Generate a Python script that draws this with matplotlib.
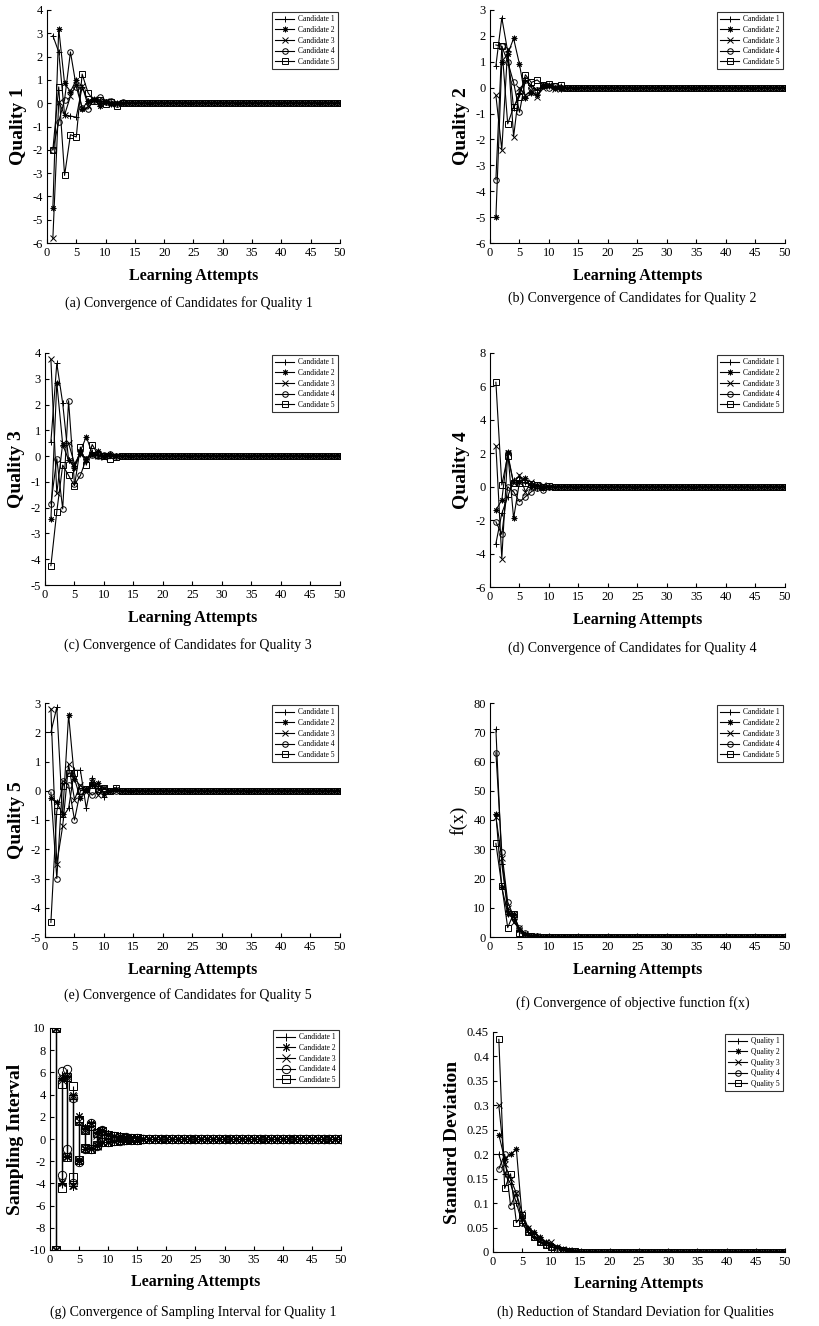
import matplotlib
matplotlib.use("Agg")
import matplotlib.pyplot as plt

plt.rcParams['font.family'] = ['Liberation Serif', 'DejaVu Serif']
plt.rcParams['axes.unicode_minus'] = False

N = 50
attempts = list(range(1, N + 1))
cand_labels = ['Candidate 1', 'Candidate 2', 'Candidate 3', 'Candidate 4', 'Candidate 5']
qual_labels = ['Quality 1', 'Quality 2', 'Quality 3', 'Quality 4', 'Quality 5']


def pad(vals, tail=0.0):
    # values after the listed ones sit on zero in the picture
    return list(vals) + [tail] * (N - len(vals))


# (a) Quality 1
q1_c1 = pad([2.9, 2.2, -0.5, -0.55, -0.6, 0.7, 0.1, 0.2, 0.1, 0.05, 0.0, -0.05, 0.02])
q1_c2 = pad([-4.5, 3.2, 0.85, 0.5, 1.0, -0.25, 0.1, 0.15, -0.1, 0.05, -0.05, 0.02])
q1_c3 = pad([-5.8, 0.05, -0.5, 0.3, 0.8, 0.75, -0.1, 0.2, 0.0, 0.1, -0.05, 0.0])
q1_c4 = pad([-2.0, -0.8, 0.15, 2.2, 0.7, -0.2, -0.25, 0.15, 0.25, 0.05, 0.1, -0.05, 0.05])
q1_c5 = pad([-2.0, 0.7, -3.1, -1.35, -1.45, 1.25, 0.45, 0.1, 0.15, -0.05, 0.05, -0.1, 0.0])

# (b) Quality 2
q2_c1 = pad([0.85, 2.7, 1.4, -0.8, -0.2, 0.3, 0.1, -0.1, 0.05, 0.1, 0.0, 0.05])
q2_c2 = pad([-5.0, 1.0, 1.3, 1.9, 0.9, -0.4, -0.2, -0.3, 0.1, 0.05, 0.0, -0.05])
q2_c3 = pad([-0.3, -2.4, 1.5, -1.9, 0.0, -0.3, -0.1, -0.35, 0.0, 0.1, -0.05, 0.0])
q2_c4 = pad([-3.55, 1.6, 1.0, 0.2, -0.95, 0.3, 0.0, -0.1, 0.1, 0.0, 0.05, 0.0])
q2_c5 = pad([1.65, 1.6, -1.4, -0.75, -0.35, 0.5, 0.2, 0.3, 0.1, 0.15, 0.05, 0.1])

# (c) Quality 3
q3_c1 = pad([0.55, 3.6, 2.05, -0.15, -0.4, 0.1, -0.1, 0.15, 0.05, 0.0, 0.05, 0.0])
q3_c2 = pad([-2.45, 2.85, 0.45, -0.15, -0.45, 0.2, 0.75, 0.1, 0.2, 0.0, 0.1, 0.0])
q3_c3 = pad([3.75, -1.45, 0.5, 0.5, -0.3, 0.1, -0.1, 0.05, 0.0, -0.05, 0.0, 0.0])
q3_c4 = pad([-1.85, -0.1, -2.05, 2.15, -1.1, -0.75, -0.1, 0.05, 0.0, 0.05, 0.1, 0.0])
q3_c5 = pad([-4.25, -2.15, -0.35, -0.75, -1.15, 0.35, -0.35, 0.45, 0.05, 0.0, -0.1, -0.05])

# (d) Quality 4
q4_c1 = pad([-3.4, -1.6, -0.6, 0.4, 0.6, 0.3, 0.1, -0.1, 0.0, 0.05])
q4_c2 = pad([-1.4, -0.8, 2.1, -1.9, 0.3, 0.5, 0.0, 0.1, -0.1, 0.0])
q4_c3 = pad([2.45, -4.3, 2.0, 0.2, 0.7, -0.3, 0.3, 0.0, 0.1, 0.0])
q4_c4 = pad([-2.1, -2.85, 0.0, -0.3, -0.9, -0.6, -0.3, -0.1, -0.2, 0.0])
q4_c5 = pad([6.25, 0.1, 1.85, 0.2, 0.25, 0.2, 0.15, 0.1, 0.0, 0.05])

# (e) Quality 5
q5_c1 = pad([2.0, 2.85, -0.9, -0.6, 0.7, 0.7, -0.6, 0.45, 0.1, -0.2, 0.0, 0.05])
q5_c2 = pad([-0.25, -0.4, -0.8, 2.6, 0.4, -0.25, 0.05, 0.2, 0.25, -0.1, 0.0, 0.05])
q5_c3 = pad([2.8, -2.5, -1.2, 0.9, -0.3, 0.2, -0.05, 0.3, -0.15, 0.1, 0.0])
q5_c4 = pad([-0.05, -3.0, 0.35, 0.2, -1.0, 0.0, 0.05, -0.15, 0.0, 0.05, 0.0])
q5_c5 = pad([-4.5, -0.7, 0.15, 0.6, 0.6, 0.0, 0.05, 0.2, 0.05, 0.1, 0.0, 0.1])

# (f) objective function
fx_c1 = pad([71, 25, 9, 6, 2, 0.8, 0.4, 0.2, 0.1])
fx_c2 = pad([42, 17, 8, 8, 2.5, 1.0, 0.4, 0.2, 0.1])
fx_c3 = pad([41, 27, 10, 5, 3, 1.0, 0.5, 0.2, 0.1])
fx_c4 = pad([63, 29, 12, 7, 3, 1.2, 0.5, 0.2, 0.1])
fx_c5 = pad([32, 17.5, 3.2, 8, 1.5, 0.5, 0.3, 0.1])

# (g) sampling interval bounds for quality 1
si_up_c1 = pad([10, 5.4, 5.6, 3.6, 1.5, 0.9, 1.2, 0.5, 0.7, 0.4, 0.3, 0.2, 0.15, 0.1, 0.05])
si_up_c2 = pad([10, 5.5, 5.7, 4.0, 2.1, 1.0, 1.4, 0.6, 0.8, 0.45, 0.3, 0.25, 0.15, 0.1, 0.05])
si_up_c3 = pad([10, 5.3, 5.5, 3.8, 1.6, 0.8, 1.3, 0.4, 0.7, 0.35, 0.25, 0.2, 0.1, 0.1, 0.05])
si_up_c4 = pad([10, 6.1, 6.3, 3.7, 1.7, 0.9, 1.4, 0.5, 0.8, 0.4, 0.3, 0.2, 0.15, 0.1, 0.05])
si_up_c5 = pad([10, 5.0, 5.6, 4.8, 1.6, 0.8, 1.2, 0.5, 0.7, 0.4, 0.3, 0.2, 0.1, 0.1, 0.05])
si_lo_c1 = pad([-10, -4.0, -1.5, -4.0, -1.9, -0.9, -0.9, -0.6, -0.3, -0.3, -0.2, -0.15, -0.1, -0.05, -0.05])
si_lo_c2 = pad([-10, -4.0, -1.6, -4.2, -2.0, -0.9, -0.8, -0.5, -0.3, -0.25, -0.2, -0.1, -0.1, -0.05, -0.05])
si_lo_c3 = pad([-10, -3.9, -1.5, -4.1, -1.9, -0.8, -0.9, -0.6, -0.3, -0.3, -0.2, -0.15, -0.1, -0.05, -0.05])
si_lo_c4 = pad([-10, -3.2, -0.9, -4.0, -2.1, -0.9, -0.9, -0.6, -0.3, -0.3, -0.2, -0.15, -0.1, -0.05, -0.05])
si_lo_c5 = pad([-10, -4.4, -1.6, -3.4, -1.9, -0.8, -0.9, -0.5, -0.3, -0.25, -0.2, -0.1, -0.1, -0.05, -0.05])

# (h) standard deviation per quality
sd_q1 = pad([0.2, 0.16, 0.14, 0.1, 0.06, 0.04, 0.03, 0.02, 0.015, 0.01, 0.008, 0.005, 0.003, 0.002, 0.001])
sd_q2 = pad([0.24, 0.19, 0.2, 0.21, 0.07, 0.05, 0.04, 0.03, 0.02, 0.015, 0.01, 0.006, 0.004, 0.002, 0.001])
sd_q3 = pad([0.3, 0.18, 0.15, 0.12, 0.08, 0.05, 0.03, 0.025, 0.02, 0.02, 0.01, 0.006, 0.004, 0.002, 0.001])
sd_q4 = pad([0.17, 0.2, 0.095, 0.12, 0.06, 0.04, 0.035, 0.02, 0.015, 0.01, 0.008, 0.005, 0.003, 0.002, 0.001])
sd_q5 = pad([0.435, 0.13, 0.16, 0.06, 0.075, 0.04, 0.03, 0.02, 0.015, 0.01, 0.007, 0.005, 0.003, 0.002, 0.001])

markers = ['+', (8, 2, 0), 'x', 'o', 's']

W, H = 820, 1326
fig = plt.figure(figsize=(W / 100, H / 100), dpi=100)


def px_axes(left, top, right, bottom):
    return fig.add_axes([left / W, 1 - bottom / H, (right - left) / W, (bottom - top) / H])


def style(ax, ylim, yticks, ylabel, bold=True):
    ax.set_xlim(0, 50)
    ax.set_xticks(range(0, 51, 5))
    ax.set_ylim(*ylim)
    ax.set_yticks(yticks)
    ax.spines['top'].set_visible(False)
    ax.spines['right'].set_visible(False)
    ax.tick_params(direction='in', length=3, width=0.8, labelsize=9, pad=3)
    ax.set_xlabel('Learning Attempts', fontsize=11.5, fontweight='bold', labelpad=6)
    if bold:
        ax.set_ylabel(ylabel, fontsize=14, fontweight='bold', labelpad=4)
    else:
        ax.set_ylabel(ylabel, fontsize=14, labelpad=4)


def add_legend(ax):
    leg = ax.legend(loc='upper right', fontsize=5.5, frameon=True, fancybox=False,
                    edgecolor='k', handlelength=2.5, borderpad=0.4, labelspacing=0.35,
                    handletextpad=0.5, borderaxespad=0.3)
    leg.get_frame().set_linewidth(0.8)


def lines(ax, series, labels, ms=4):
    for vals, m, lab in zip(series, markers, labels):
        ax.plot(attempts, vals, color='k', lw=0.8, marker=m, ms=ms,
                mfc='none' if m in ('o', 's') else 'k', mec='k', mew=0.7, label=lab)
    add_legend(ax)


panels = [
    # left, top, right, bottom, data, ylim, yticks, ylabel, caption, caption y
    (47, 10, 340, 243, [q1_c1, q1_c2, q1_c3, q1_c4, q1_c5], (-6, 4), range(-6, 5), 'Quality 1',
     '(a) Convergence of Candidates for Quality 1', 303),
    (490, 10, 785, 243, [q2_c1, q2_c2, q2_c3, q2_c4, q2_c5], (-6, 3), range(-6, 4), 'Quality 2',
     '(b) Convergence of Candidates for Quality 2', 298),
    (45, 353, 340, 585, [q3_c1, q3_c2, q3_c3, q3_c4, q3_c5], (-5, 4), range(-5, 5), 'Quality 3',
     '(c) Convergence of Candidates for Quality 3', 645),
    (490, 353, 785, 587, [q4_c1, q4_c2, q4_c3, q4_c4, q4_c5], (-6, 8), range(-6, 9, 2), 'Quality 4',
     '(d) Convergence of Candidates for Quality 4', 648),
    (45, 703, 340, 937, [q5_c1, q5_c2, q5_c3, q5_c4, q5_c5], (-5, 3), range(-5, 4), 'Quality 5',
     '(e) Convergence of Candidates for Quality 5', 995),
    (490, 703, 785, 937, [fx_c1, fx_c2, fx_c3, fx_c4, fx_c5], (0, 80), range(0, 81, 10), 'f(x)',
     '(f) Convergence of objective function f(x)', 1003),
]

for left, top, right, bottom, data, ylim, yt, ylab, cap, cy in panels:
    ax = px_axes(left, top, right, bottom)
    lines(ax, data, cand_labels)
    style(ax, ylim, list(yt), ylab, bold=(ylab != 'f(x)'))
    fig.text(((left + right) / 2 - 5) / W, 1 - cy / H, cap, ha='center', va='center', fontsize=10)

# (g) stem plot of interval bounds
ax = px_axes(50, 1028, 341, 1250)
ups = [si_up_c1, si_up_c2, si_up_c3, si_up_c4, si_up_c5]
los = [si_lo_c1, si_lo_c2, si_lo_c3, si_lo_c4, si_lo_c5]
for up, lo, m, lab in zip(ups, los, markers, cand_labels):
    face = 'none' if m in ('o', 's') else 'k'
    for vals in (up, lo):
        ax.vlines(attempts, 0, vals, color='k', lw=0.8)
        ax.plot(attempts, vals, ls='none', marker=m, ms=6, mfc=face, mec='k', mew=0.7)
    ax.plot([], [], color='k', lw=0.8, marker=m, ms=6, mfc=face, mec='k', mew=0.7, label=lab)
add_legend(ax)
style(ax, (-10, 10), list(range(-10, 11, 2)), 'Sampling Interval')
fig.text(193 / W, 1 - 1312 / H, '(g) Convergence of Sampling Interval for Quality 1',
         ha='center', va='center', fontsize=10)

# (h) standard deviation
ax = px_axes(493, 1032, 785, 1252)
lines(ax, [sd_q1, sd_q2, sd_q3, sd_q4, sd_q5], qual_labels)
style(ax, (0, 0.45), [0, 0.05, 0.1, 0.15, 0.2, 0.25, 0.3, 0.35, 0.4, 0.45], 'Standard Deviation')
ax.set_yticklabels(['0', '0.05', '0.1', '0.15', '0.2', '0.25', '0.3', '0.35', '0.4', '0.45'])
fig.text(635 / W, 1 - 1312 / H, '(h) Reduction of Standard Deviation for Qualities',
         ha='center', va='center', fontsize=10)

fig.savefig('out.png', dpi=100)
